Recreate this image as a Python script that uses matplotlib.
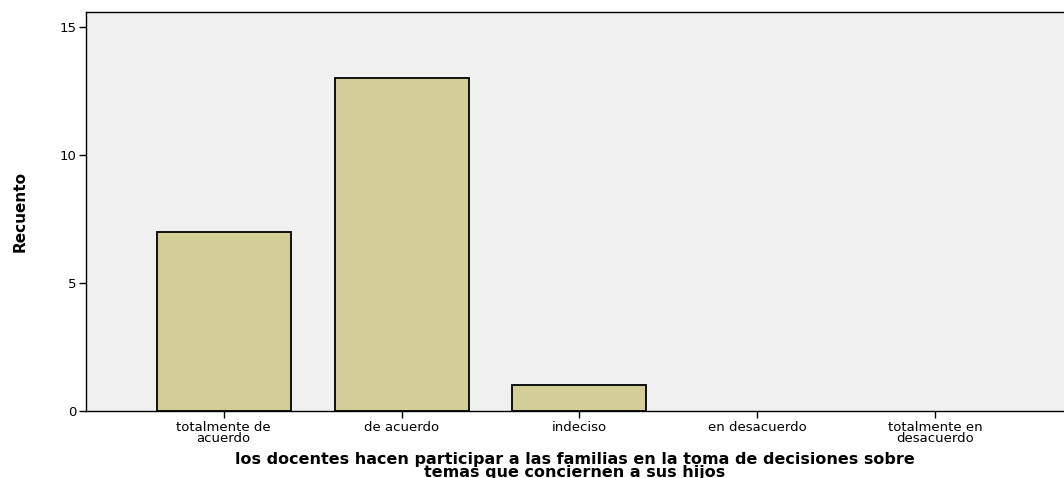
import matplotlib
matplotlib.use('Agg')
import matplotlib.pyplot as plt

categories = ['totalmente de\nacuerdo', 'de acuerdo', 'indeciso', 'en desacuerdo', 'totalmente en\ndesacuerdo']
counts = [7, 13, 1, 0, 0]
yticks = [0, 5, 10, 15]

plt.rcParams['font.family'] = ['DejaVu Sans']

fig = plt.figure(figsize=(10.64, 4.78), dpi=100)
ax = fig.add_axes([86 / 1064, 67 / 478, 1 - 86 / 1064, (411 - 12) / 478])
ax.set_facecolor('#f0f0f0')

x = range(len(categories))
# zero-count bars leave no visible outline, as in SPSS
lws = [1.3 if c > 0 else 0 for c in counts]
ax.bar(x, counts, width=0.753, color='#d3ce98', edgecolor='black', linewidth=lws, zorder=2)

ax.set_xlim(-0.775, 4.725)
ax.set_ylim(0, 15.6)
ax.set_xticks(list(x))
ax.set_xticklabels(categories, fontsize=9.5, linespacing=0.85)
ax.set_yticks(yticks)
ax.set_yticklabels([str(t) for t in yticks], fontsize=9.5)
ax.tick_params(axis='both', length=5, width=1, color='black', pad=2)

for s in ['left', 'bottom', 'top']:
    ax.spines[s].set_color('black')
    ax.spines[s].set_linewidth(1)
ax.spines['right'].set_visible(False)

ax.set_xlabel('los docentes hacen participar a las familias en la toma de decisiones sobre\ntemas que conciernen a sus hijos',
              fontsize=11.5, fontweight='bold', linespacing=0.8, labelpad=5)
ax.set_ylabel('Recuento', fontsize=11, fontweight='bold', labelpad=23)

fig.savefig('out.png', dpi=100)
